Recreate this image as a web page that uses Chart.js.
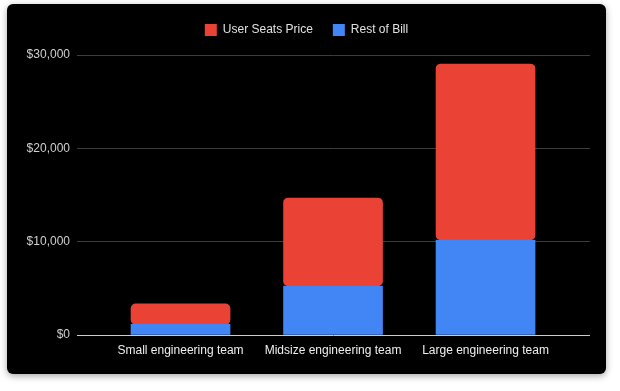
<!DOCTYPE html>
<html>
<head>
<meta charset="utf-8">
<script src="https://cdn.jsdelivr.net/npm/chart.js@4"></script>
<style>
  html, body { margin: 0; padding: 0; background: #fff; }
  #card {
    position: absolute; left: 7px; top: 4px; width: 599px; height: 370px;
    background: #000; border-radius: 6px;
    box-shadow: 0 2px 7px rgba(0,0,0,0.35);
    overflow: hidden;
  }
  canvas { display: block; }
</style>
</head>
<body>
<div id="card"><canvas id="chart" width="599" height="370"></canvas></div>
<script>
// categories and values
const categories = ["Small engineering team", "Midsize engineering team", "Large engineering team"];
const restOfBill = [1130, 5250, 10180];
const userSeats = [2200, 9430, 18860];
const yTicks = [0, 10000, 20000, 30000];

const RED = "#ea4335";
const BLUE = "#4285f4";

// tweak legend height and position so the plot starts where the reference does
const legendGap = {
  id: "legendGap",
  beforeInit(chart) {
    const fit = chart.legend.fit;
    chart.legend.fit = function () {
      fit.bind(chart.legend)();
      this.height += 9;
    };
  },
  afterLayout(chart) {
    chart.legend.left += 8;
    chart.legend.right += 8;
  }
};

Chart.defaults.font.family = "'Liberation Sans', Arial, sans-serif";
Chart.defaults.font.size = 12;

new Chart(document.getElementById("chart"), {
  type: "bar",
  data: {
    labels: categories.map((c, i) => i),
    datasets: [
      { label: "Rest of Bill", data: restOfBill, backgroundColor: BLUE },
      { label: "User Seats Price", data: userSeats, backgroundColor: RED }
    ]
  },
  options: {
    responsive: false,
    animation: false,
    layout: { padding: { top: 0, right: 16, left: 0, bottom: 0 } },
    datasets: {
      bar: { barThickness: 99, borderRadius: 5, borderSkipped: false, borderWidth: 0 }
    },
    plugins: {
      legend: {
        reverse: true,
        labels: { color: "#e0e0e0", boxWidth: 12, boxHeight: 12, padding: 20 }
      },
      tooltip: { enabled: false }
    },
    scales: {
      x: {
        type: "linear",
        stacked: true,
        offset: false,
        min: -0.679,
        max: 2.685,
        afterBuildTicks: s => { s.ticks = categories.map((c, i) => ({ value: i })); },
        afterFit: s => { s.height = 39; },
        grid: { display: false },
        border: { display: false },
        ticks: { color: "#eeeeee", padding: 0, maxRotation: 0, autoSkip: false,
                 callback: v => categories[v] }
      },
      y: {
        stacked: true,
        min: 0,
        max: 30000,
        afterBuildTicks: s => { s.ticks = yTicks.map(v => ({ value: v })); },
        afterFit: s => { s.width = 70; },
        border: { display: false },
        grid: {
          drawTicks: false,
          color: c => c.tick && c.tick.value === 0 ? "#cccccc" : "#3c3c3c"
        },
        ticks: { color: "#cfcfcf", padding: 7,
                 callback: v => "$" + v.toLocaleString("en-US") }
      }
    }
  },
  plugins: [legendGap]
});
</script>
</body>
</html>
